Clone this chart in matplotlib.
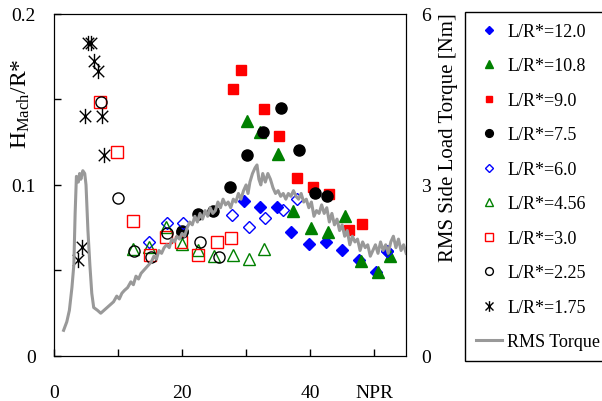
import matplotlib
matplotlib.use("Agg")
import matplotlib.pyplot as plt
from matplotlib.path import Path

plt.rcParams["font.family"] = ["Liberation Serif", "DejaVu Serif"]
plt.rcParams["mathtext.fontset"] = "custom"
plt.rcParams["mathtext.rm"] = "Liberation Serif"
plt.rcParams["mathtext.it"] = "Liberation Serif"

# ---- data ------------------------------------------------------------------------
npr_120 = [29.6, 32.2, 34.8, 37.0, 39.9, 42.45, 45.05, 47.7, 50.3, 52.0]
h_120 = [0.0908, 0.087, 0.087, 0.0727, 0.0655, 0.0668, 0.062, 0.0561, 0.0493, 0.0614]

npr_108 = [30.1, 32.2, 34.95, 37.4, 40.2, 42.75, 45.4, 47.95, 50.6, 52.5]
h_108 = [0.1372, 0.1308, 0.1181, 0.085, 0.0749, 0.0723, 0.082, 0.0557, 0.0493, 0.0587]

npr_90 = [27.9, 29.2, 32.8, 35.2, 37.9, 40.5, 43.0, 46.0, 48.1]
h_90 = [0.156, 0.1674, 0.1444, 0.1285, 0.1039, 0.0986, 0.0947, 0.0737, 0.0772]

npr_75 = [20.0, 22.55, 24.9, 27.55, 30.15, 32.7, 35.5, 38.25, 40.7, 42.7]
h_75 = [0.0733, 0.083, 0.085, 0.099, 0.1175, 0.1308, 0.145, 0.1206, 0.0951, 0.0934]

npr_60 = [14.9, 17.6, 20.2, 27.8, 30.5, 33.0, 35.8, 37.9, 52.0]
h_60 = [0.0665, 0.0776, 0.078, 0.0825, 0.0756, 0.0809, 0.0854, 0.0918, 0.0616]

npr_456 = [12.35, 14.85, 17.5, 19.95, 22.45, 25.05, 27.9, 30.4, 32.85]
h_456 = [0.0626, 0.064, 0.0756, 0.0655, 0.062, 0.0587, 0.0591, 0.0567, 0.0626]

npr_30 = [7.2, 9.85, 12.4, 15.05, 17.5, 19.8, 22.5, 25.4, 27.7]
h_30 = [0.1487, 0.1193, 0.0791, 0.0592, 0.0698, 0.0665, 0.059, 0.0669, 0.069]

npr_225 = [7.3, 9.95, 12.5, 15.2, 17.6, 19.95, 22.8, 25.7]
h_225 = [0.1487, 0.0924, 0.0616, 0.0577, 0.0717, 0.0727, 0.0665, 0.058]

npr_175 = [5.3, 5.8, 6.25, 6.9, 4.85, 7.45, 7.8, 4.3, 3.8]
h_175 = [0.183, 0.183, 0.1727, 0.1668, 0.1405, 0.1402, 0.1177, 0.0639, 0.0563]

# RMS side load torque trace [Nm]
npr_rms = [1.5, 2.0, 2.4, 2.8, 3.1, 3.3, 3.5, 3.8, 4.0, 4.2, 4.5, 4.8, 5.0, 5.3, 5.6,
           5.9, 6.2, 6.8, 7.3, 7.8, 8.3, 8.8, 9.3, 9.8, 10.2, 10.6, 11.0, 11.5, 12.0,
           12.4, 12.8, 13.2, 13.6, 14.0, 14.4, 14.8, 15.2, 15.6, 16.0, 16.4, 16.8, 17.2,
           17.6, 18.0, 18.4, 18.8, 19.2, 19.6, 20.0, 20.4, 20.8, 21.2, 21.6, 22.0, 22.4,
           22.8, 23.2, 23.6, 24.0, 24.4, 24.8, 25.2, 25.6, 26.0, 26.4, 26.8, 27.2, 27.6,
           28.0, 28.4, 28.8, 29.2, 29.6, 30.0, 30.3, 30.6, 31.0, 31.4, 31.7, 32.0, 32.3,
           32.6, 33.0, 33.4, 33.8, 34.2, 34.6, 35.0, 35.4, 35.8, 36.2, 36.6, 37.0, 37.4,
           37.8, 38.2, 38.6, 39.0, 39.4, 39.8, 40.2, 40.6, 41.0, 41.4, 41.8, 42.2, 42.6,
           43.0, 43.4, 43.8, 44.2, 44.6, 45.0, 45.4, 45.8, 46.2, 46.6, 47.0, 47.4, 47.8,
           48.2, 48.6, 49.0, 49.4, 49.8, 50.2, 50.6, 51.0, 51.4, 51.8, 52.2, 52.6, 53.0,
           53.4, 53.8, 54.2, 54.6, 55.0]
torque_rms = [0.45, 0.6, 0.8, 1.2, 1.6, 2.5, 3.15, 3.05, 3.2, 3.1, 3.25, 3.2, 3.0, 2.2, 1.6,
              1.1, 0.85, 0.8, 0.75, 0.8, 0.85, 0.9, 0.95, 1.05, 1.0, 1.1, 1.15, 1.2, 1.3,
              1.25, 1.4, 1.35, 1.45, 1.5, 1.55, 1.6, 1.65, 1.75, 1.7, 1.85, 1.8, 1.9,
              1.95, 1.9, 2.05, 2.0, 2.1, 2.05, 2.15, 2.1, 2.25, 2.35, 2.3, 2.45, 2.35,
              2.5, 2.4, 2.55, 2.45, 2.6, 2.5, 2.55, 2.7, 2.6, 2.75, 2.65, 2.7, 2.6,
              2.75, 2.7, 2.85, 2.75, 2.9, 3.0, 2.85, 3.05, 3.2, 3.3, 3.35, 3.1, 3.0,
              3.2, 3.05, 3.2, 3.1, 2.95, 2.85, 2.9, 2.8, 2.85, 2.75, 2.85, 2.8, 2.9,
              2.8, 2.75, 2.85, 2.7, 2.75, 2.6, 2.7, 2.45, 2.55, 2.5, 2.65, 2.5, 2.6,
              2.35, 2.5, 2.3, 2.4, 2.2, 2.3, 2.1, 2.2, 1.95, 2.1, 2.0, 2.05, 1.85,
              2.0, 1.9, 1.95, 1.75, 1.85, 1.95, 1.8, 2.0, 1.85, 1.95, 1.8, 2.0, 2.1,
              1.9, 2.05, 1.85, 1.95, 1.8]

# Excel-style asterisk: an x with a vertical bar
STAR = Path([(0, -1), (0, 1), (-0.75, -0.75), (0.75, 0.75), (-0.75, 0.75), (0.75, -0.75)],
            [Path.MOVETO, Path.LINETO, Path.MOVETO, Path.LINETO, Path.MOVETO, Path.LINETO])

fig = plt.figure(figsize=(6.02, 4.02), dpi=100)
ax = fig.add_axes([0.0897, 0.112, 0.585, 0.851])

series = [
    ("L/R*=12.0", npr_120, h_120, "D", 6.5, "blue", "blue"),
    ("L/R*=10.8", npr_108, h_108, "^", 9, "green", "green"),
    ("L/R*=9.0", npr_90, h_90, "s", 6.5, "red", "red"),
    ("L/R*=7.5", npr_75, h_75, "o", 8, "black", "black"),
    ("L/R*=6.0", npr_60, h_60, "D", 6.5, "none", "blue"),
    ("L/R*=4.56", npr_456, h_456, "^", 9, "none", "green"),
    ("L/R*=3.0", npr_30, h_30, "s", 8.5, "none", "red"),
    ("L/R*=2.25", npr_225, h_225, "o", 8, "none", "black"),
    ("L/R*=1.75", npr_175, h_175, STAR, 11, "none", "black"),
]
handles = []
for label, x, y, m, ms, fc, ec in series:
    h, = ax.plot(x, y, linestyle="none", marker=m, markersize=ms,
                 markerfacecolor=fc, markeredgecolor=ec, markeredgewidth=1.0,
                 label=label)
    handles.append(h)

ax.set_xlim(0, 55)
ax.set_ylim(0, 0.2)
ax.set_xticks([0, 10, 20, 30, 40, 50])
ax.set_xticklabels(["0", "", "20", "", "40", "NPR"])
ax.set_yticks([0, 0.05, 0.1, 0.15, 0.2])
ax.set_yticklabels(["0", "", "0.1", "", "0.2"])
ax.tick_params(direction="in", length=5, labelsize=14, width=1)
ax.tick_params(axis="x", pad=20)
ax.tick_params(axis="y", pad=13)
ax.set_ylabel("H$_{\\mathrm{Mach}}$/R*", fontsize=17)
ax.yaxis.set_label_coords(-0.062, 0.74)

ax2 = ax.twinx()
line, = ax2.plot(npr_rms, torque_rms, color="#999999", linewidth=2.2, label="RMS Torque")
handles.append(line)
ax2.set_ylim(0, 6)
ax2.set_yticks([0, 3, 6])
ax2.tick_params(length=0, labelsize=14, pad=11)
ax2.set_ylabel("RMS Side Load Torque [Nm]", fontsize=15)
ax2.yaxis.set_label_coords(1.094, 0.64)

leg = fig.legend(handles=handles, loc="upper left", bbox_to_anchor=(465 / 602, 1 - 13 / 402),
                 borderaxespad=0, fontsize=13, markerscale=0.7, labelspacing=0.97,
                 handlelength=1.45, handletextpad=0.3, borderpad=0.6, fancybox=False,
                 frameon=True, edgecolor="black", framealpha=1)
leg.get_frame().set_linewidth(1)

fig.savefig("out.png", dpi=100)
